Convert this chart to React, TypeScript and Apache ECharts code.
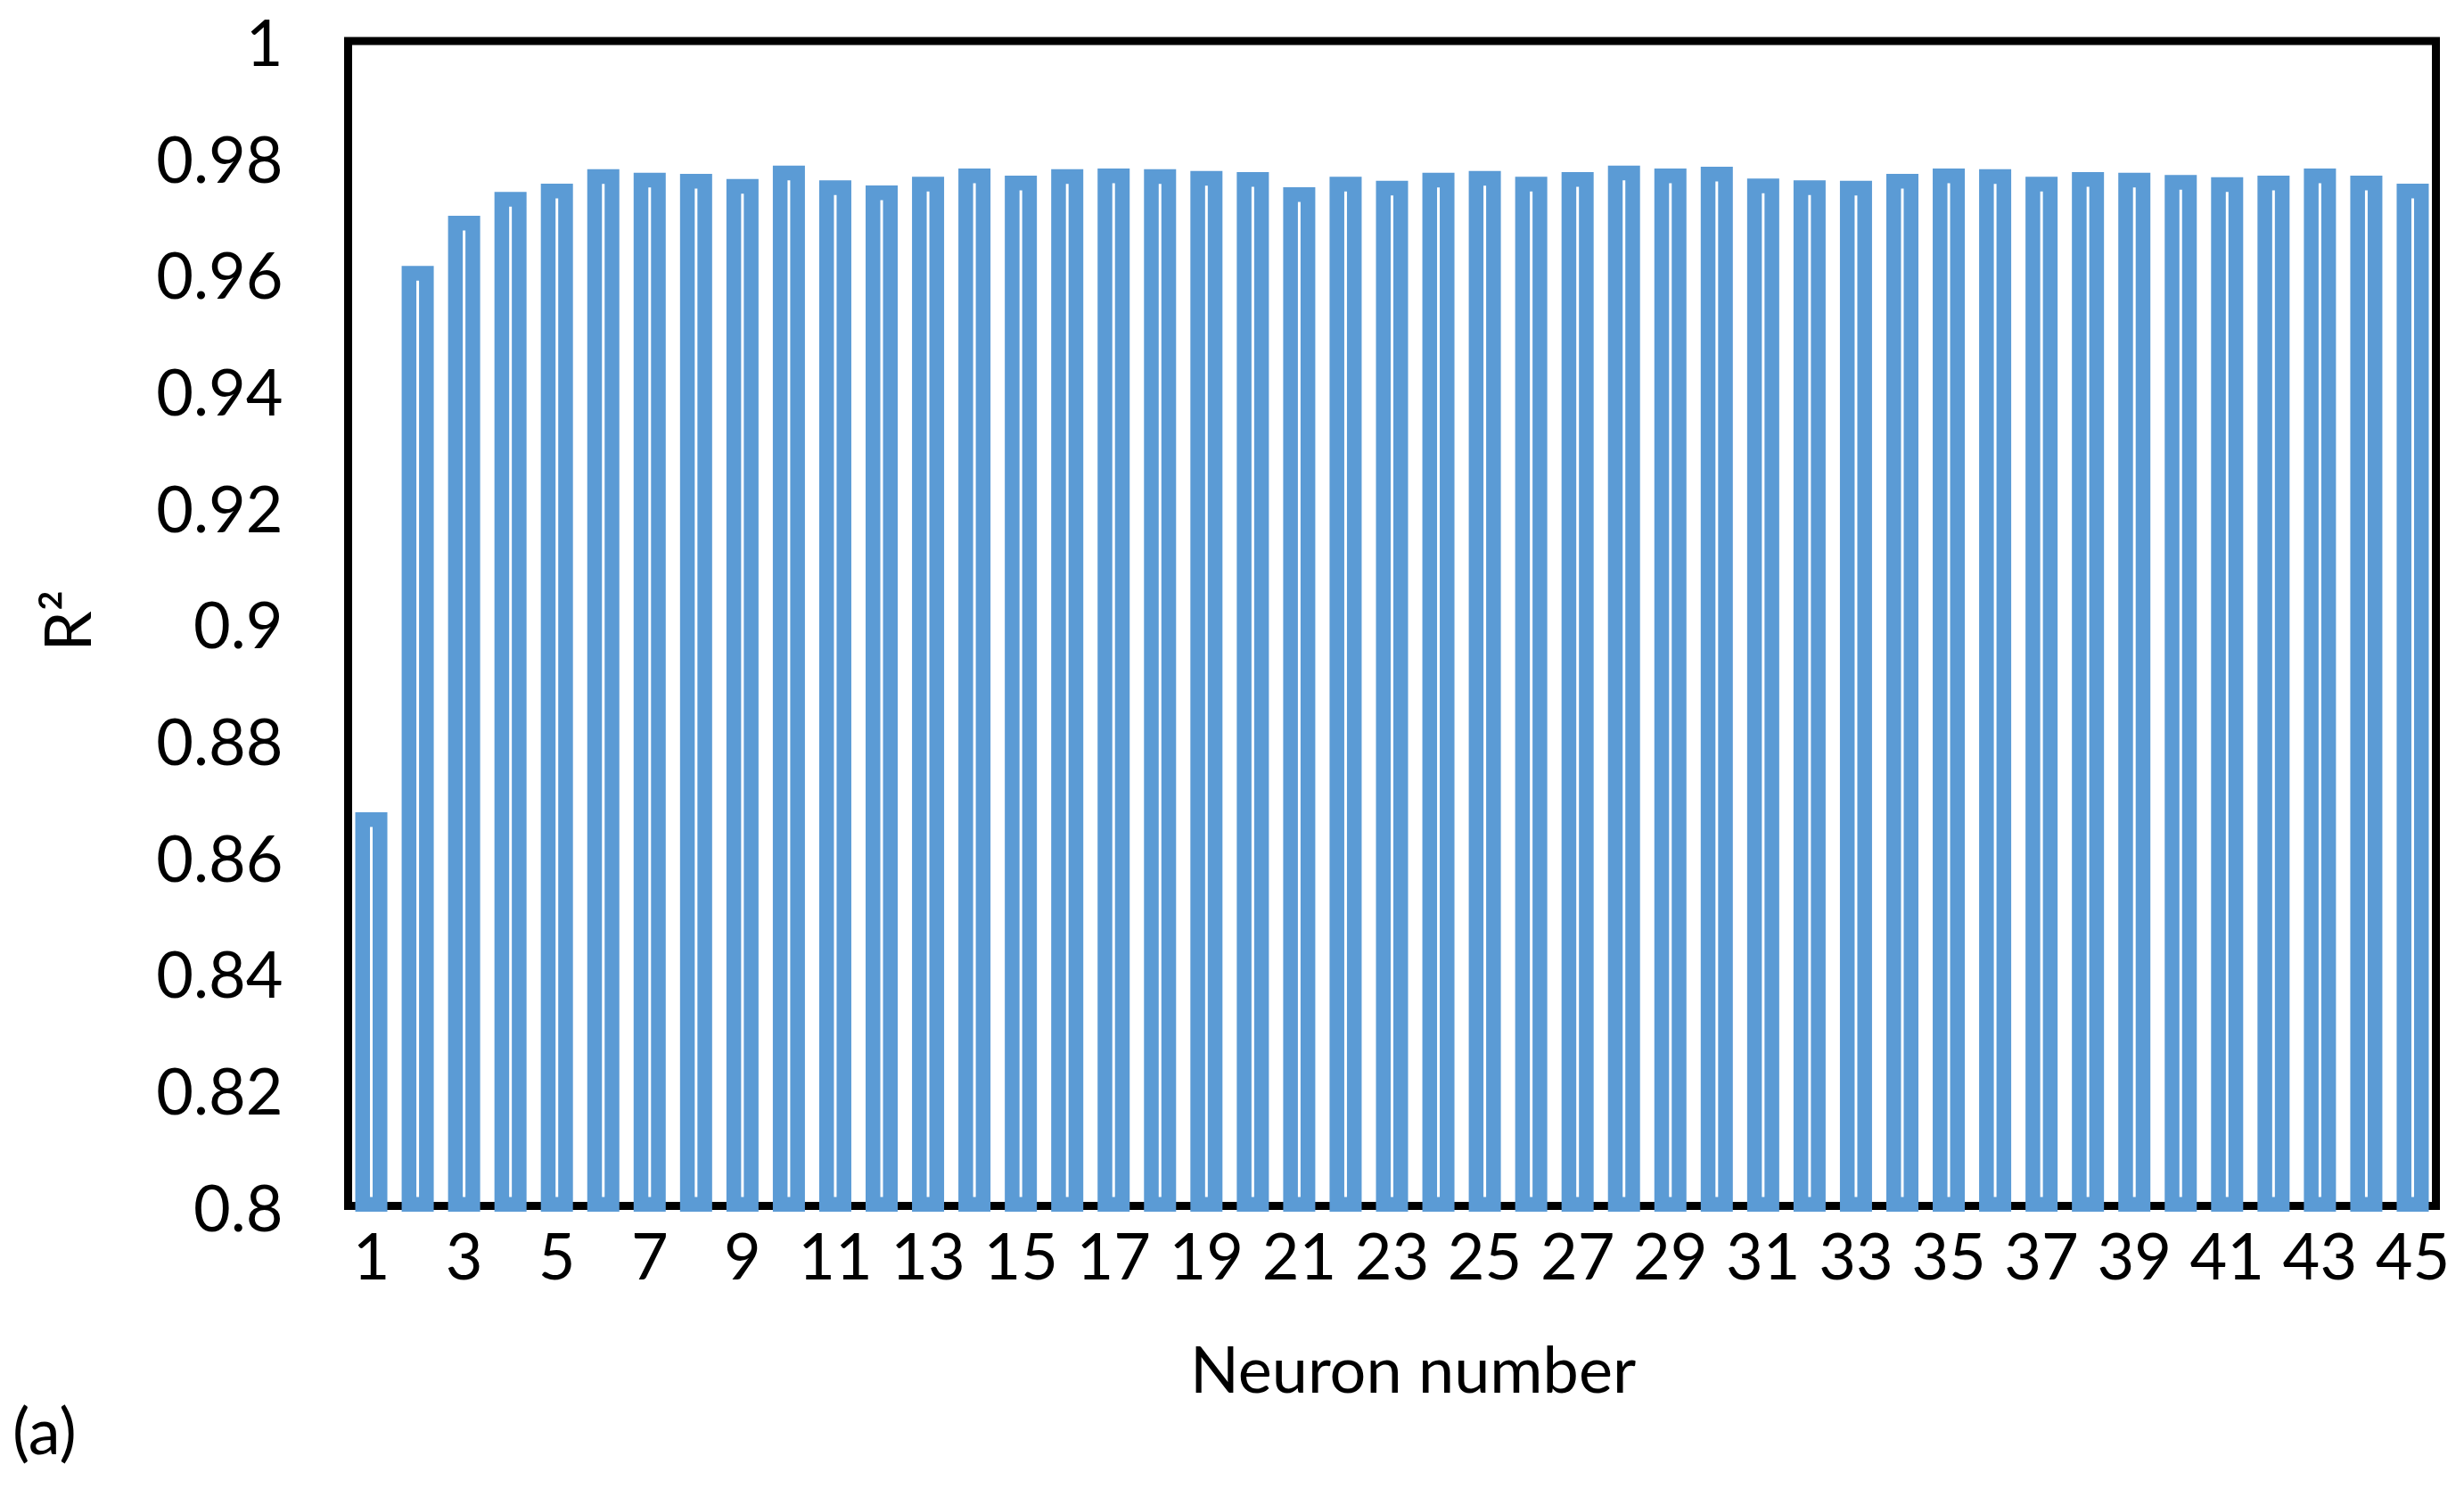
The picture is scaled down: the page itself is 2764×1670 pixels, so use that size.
import React, { useEffect, useRef } from "react";
import * as echarts from "echarts";

const neurons: string[] = Array.from({ length: 45 }, (_, i) => String(i + 1));
const r2Values: number[] = [
  0.8676, 0.9614, 0.97, 0.9741, 0.9755, 0.978, 0.9774, 0.9772, 0.9763, 0.9786,
  0.9761, 0.9752, 0.9767, 0.9781, 0.9769, 0.978, 0.9781, 0.978, 0.9777, 0.9775,
  0.9749, 0.9767, 0.976, 0.9774, 0.9777, 0.9767, 0.9775, 0.9786, 0.9781, 0.9784,
  0.9764, 0.9761, 0.976, 0.9772, 0.9781, 0.978, 0.9767, 0.9775, 0.9774, 0.977,
  0.9766, 0.9769, 0.9781, 0.9769, 0.9755,
];
const yMin = 0.8;
const yMax = 1;
const yStep = 0.02;
const barBase = 0.799;
const xTitle = "Neuron number";
const yTitle = "R²";
const panelTag = "(a)";

const FONT = "Lato";
const BLUE = "#5B9BD5";

export default function App() {
  const ref = useRef<HTMLDivElement>(null);
  useEffect(() => {
    if (!ref.current) return;
    const chart = echarts.init(ref.current, null, { renderer: "svg" });
    chart.setOption({
      animation: false,
      backgroundColor: "#ffffff",
      grid: {
        left: 390.5,
        right: 31.5,
        top: 46,
        bottom: 317.5,
        show: true,
        borderColor: "#000000",
        borderWidth: 9,
        backgroundColor: "transparent",
      },
      xAxis: {
        type: "category",
        data: neurons,
        axisLine: { show: false },
        axisTick: { show: false },
        axisLabel: {
          interval: 1,
          margin: 18,
          fontFamily: FONT,
          fontSize: 72,
          color: "#000000",
        },
      },
      yAxis: {
        type: "value",
        min: yMin,
        max: yMax,
        interval: yStep,
        startValue: barBase,
        axisLine: { show: false },
        axisTick: { show: false },
        splitLine: { show: false },
        axisLabel: {
          margin: 73,
          fontFamily: FONT,
          fontSize: 72,
          color: "#000000",
          formatter: (v: number) => String(parseFloat(v.toFixed(2))),
        },
      },
      series: [
        {
          type: "bar",
          data: r2Values,
          barWidth: 36,
          clip: false,
          itemStyle: {
            color: "#ffffff",
            borderColor: BLUE,
            borderWidth: 16.5,
          },
        },
      ],
      graphic: [
        {
          type: "text",
          x: 1585,
          y: 1534,
          style: {
            text: xTitle,
            fontFamily: FONT,
            fontSize: 72,
            fill: "#000000",
            align: "center",
            verticalAlign: "middle",
          },
        },
        {
          type: "text",
          x: 74,
          y: 696,
          rotation: Math.PI / 2,
          style: {
            text: yTitle,
            fontFamily: FONT,
            fontSize: 72,
            fill: "#000000",
            align: "center",
            verticalAlign: "middle",
          },
        },
        {
          type: "text",
          x: 14,
          y: 1603,
          style: {
            text: panelTag,
            fontFamily: FONT,
            fontSize: 72,
            fill: "#000000",
            align: "left",
            verticalAlign: "middle",
          },
        },
      ],
    });
    return () => chart.dispose();
  }, []);
  return (
    <div
      ref={ref}
      style={{ position: "fixed", left: 0, top: 0, width: 2764, height: 1670 }}
    />
  );
}
